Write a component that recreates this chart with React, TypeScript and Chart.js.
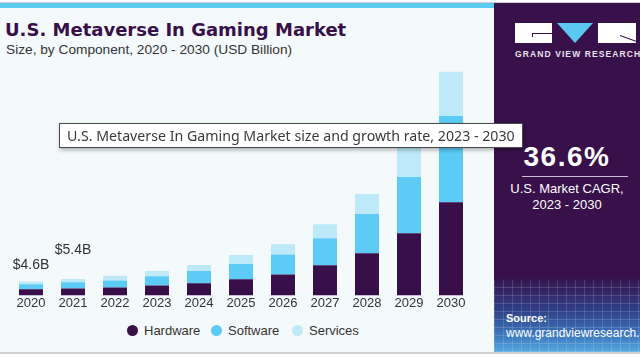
import React, { useEffect, useRef } from "react";
import { Chart, registerables } from "chart.js";

Chart.register(...registerables);

const years = ["2020", "2021", "2022", "2023", "2024", "2025", "2026", "2027", "2028", "2029", "2030"];
const hardware = [2.0, 2.3, 2.6, 3.3, 4.0, 5.3, 6.9, 9.9, 13.9, 20.5, 30.7];
const software = [1.7, 2.0, 2.3, 3.0, 4.0, 5.0, 6.6, 8.9, 12.9, 18.5, 28.4];
const services = [0.9, 1.1, 1.6, 1.7, 2.0, 3.0, 3.3, 4.6, 6.6, 10.6, 14.5];
const seriesNames = ["Hardware", "Software", "Services"];
const seriesColors = ["#380f49", "#5ccbf5", "#bde9f9"];
const annotIndex = [0, 1];
const annotText = ["$4.6B", "$5.4B"];
const annotLift = [16, 29];

const valueLabels = {
  id: "valueLabels",
  afterDatasetsDraw(chart: any) {
    const ctx = chart.ctx;
    const top = chart.getDatasetMeta(2);
    ctx.save();
    ctx.font = "14px 'Liberation Sans', Arial, sans-serif";
    ctx.fillStyle = "#333";
    ctx.textAlign = "center";
    ctx.textBaseline = "middle";
    annotIndex.forEach((idx, k) => {
      const el = top.data[idx];
      ctx.fillText(annotText[k], el.x, el.y - annotLift[k]);
    });
    ctx.restore();
  },
};

function BarChart() {
  const ref = useRef<HTMLCanvasElement>(null);
  useEffect(() => {
    const data = [hardware, software, services];
    const chart = new Chart(ref.current as HTMLCanvasElement, {
      type: "bar",
      data: {
        labels: years,
        datasets: data.map((d, i) => ({
          label: seriesNames[i],
          data: d,
          backgroundColor: seriesColors[i],
          borderWidth: 0,
          categoryPercentage: 1,
          barPercentage: 0.571,
        })),
      },
      options: {
        animation: false,
        responsive: false,
        maintainAspectRatio: false,
        layout: { padding: { left: 10, right: 10, top: 0, bottom: 0 } },
        plugins: { legend: { display: false }, tooltip: { enabled: false } },
        scales: {
          x: {
            stacked: true,
            grid: { display: false, drawTicks: false },
            border: { display: false },
            ticks: {
              padding: 0,
              color: "#333",
              font: { family: "'Liberation Sans', Arial, sans-serif", size: 13 },
            },
          },
          y: { stacked: true, display: false, min: 0, max: 77.5 },
        },
      },
      plugins: [valueLabels],
    });
    return () => chart.destroy();
  }, []);
  return <canvas ref={ref} width={482} height={251} style={{ position: "absolute", left: 0, top: 60 }} />;
}

const sans = "'Liberation Sans', Arial, sans-serif";

export default function App() {
  return (
    <div
      style={{
        position: "fixed",
        left: 0,
        top: 0,
        width: 640,
        height: 358,
        background: "#ffffff",
        overflow: "hidden",
        fontFamily: sans,
      }}
    >
      <div style={{ position: "absolute", left: 0, top: 3, width: 640, height: 349, background: "#f4f9fc" }} />
      <div style={{ position: "absolute", left: 0, top: 2, width: 640, height: 1, background: "#cfcfcf" }} />
      <div style={{ position: "absolute", left: 0, top: 3, width: 494, height: 5, background: "#5ccbf2" }} />
      <div style={{ position: "absolute", left: 0, top: 352, width: 640, height: 2, background: "#cfcfcf" }} />

      <div
        style={{
          position: "absolute",
          left: 5,
          top: 18,
          fontFamily: "'DejaVu Sans', sans-serif",
          fontWeight: 700,
          fontSize: 18,
          color: "#37104a",
          whiteSpace: "nowrap",
          lineHeight: "24px",
        }}
      >
        U.S. Metaverse In Gaming Market
      </div>
      <div style={{ position: "absolute", left: 6, top: 42, fontSize: 13.7, color: "#333", whiteSpace: "nowrap", lineHeight: "16px" }}>
        Size, by Component, 2020 - 2030 (USD Billion)
      </div>

      <BarChart />

      {seriesNames.map((n, i) => (
        <div
          key={n}
          style={{
            position: "absolute",
            left: [127, 211, 292][i],
            top: 322,
            display: "flex",
            alignItems: "center",
            fontSize: 13,
            color: "#333",
            whiteSpace: "nowrap",
            height: 16,
          }}
        >
          <span style={{ display: "inline-block", width: 11, height: 11, borderRadius: "50%", background: seriesColors[i], marginRight: 6 }} />
          {n}
        </div>
      ))}

      <div style={{ position: "absolute", left: 494, top: 3, width: 146, height: 349, background: "linear-gradient(180deg, #38104a 0%, #38104a 78%, #2f3f86 88%, #3f7fc4 96%, #58a9e0 100%)" }} />
      <div
        style={{
          position: "absolute",
          left: 494,
          top: 280,
          width: 146,
          height: 72,
          opacity: 0.25,
          backgroundImage:
            "repeating-linear-gradient(90deg, rgba(255,255,255,0.6) 0px, rgba(255,255,255,0.6) 1px, transparent 1px, transparent 9px), repeating-linear-gradient(0deg, rgba(255,255,255,0.6) 0px, rgba(255,255,255,0.6) 1px, transparent 1px, transparent 8px)",
        }}
      />
      <div style={{ position: "absolute", left: 515, top: 23, width: 37, height: 20, background: "#ffffff" }} />
      <div style={{ position: "absolute", left: 532, top: 33, width: 20, height: 1, background: "#38104a" }} />
      <div style={{ position: "absolute", left: 532, top: 33, width: 1, height: 4, background: "#38104a" }} />
      <div style={{ position: "absolute", left: 557, top: 23, width: 0, height: 0, borderLeft: "18.5px solid transparent", borderRight: "18.5px solid transparent", borderTop: "20px solid #5cc8f2" }} />
      <div style={{ position: "absolute", left: 598, top: 23, width: 38, height: 20, background: "#ffffff" }} />
      <div style={{ position: "absolute", left: 620, top: 35, width: 17, height: 1, background: "#38104a", transform: "rotate(20deg)", transformOrigin: "left center" }} />
      <div style={{ position: "absolute", left: 515, top: 49, width: 122, textAlign: "center", fontSize: 8.5, fontWeight: 700, letterSpacing: 1.1, color: "#e8e4ee", whiteSpace: "nowrap", lineHeight: "10px" }}>
        GRAND VIEW RESEARCH
      </div>

      <div style={{ position: "absolute", left: 494, top: 141, width: 146, textAlign: "center", fontSize: 28, fontWeight: 700, letterSpacing: 1.5, color: "#ffffff", lineHeight: "32px", whiteSpace: "nowrap" }}>
        36.6%
      </div>
      <div style={{ position: "absolute", left: 522, top: 176, width: 106, height: 1, background: "#c8c0d0" }} />
      <div style={{ position: "absolute", left: 494, top: 181, width: 146, textAlign: "center", fontSize: 13, color: "#ffffff", lineHeight: "16px", whiteSpace: "nowrap" }}>
        U.S. Market CAGR,
        <br />
        2023 - 2030
      </div>
      <div style={{ position: "absolute", left: 506, top: 312, fontSize: 11, fontWeight: 700, color: "#ffffff", lineHeight: "13px", whiteSpace: "nowrap" }}>
        Source:
      </div>
      <div style={{ position: "absolute", left: 506, top: 326, fontSize: 12, color: "#ffffff", lineHeight: "14px", whiteSpace: "nowrap" }}>
        www.grandviewresearch.com
      </div>

      <div
        style={{
          position: "absolute",
          left: 59,
          top: 123,
          width: 455,
          height: 23,
          border: "1px solid #4a4a4a",
          background: "#ffffff",
          boxShadow: "1px 2px 4px rgba(0,0,0,0.3)",
          fontFamily: "'Noto Sans', sans-serif",
          fontSize: 14.2,
          color: "#3a3a3a",
          lineHeight: "23px",
          paddingLeft: 7,
          boxSizing: "content-box",
          whiteSpace: "nowrap",
        }}
      >
        U.S. Metaverse In Gaming Market size and growth rate, 2023 - 2030
      </div>
    </div>
  );
}
